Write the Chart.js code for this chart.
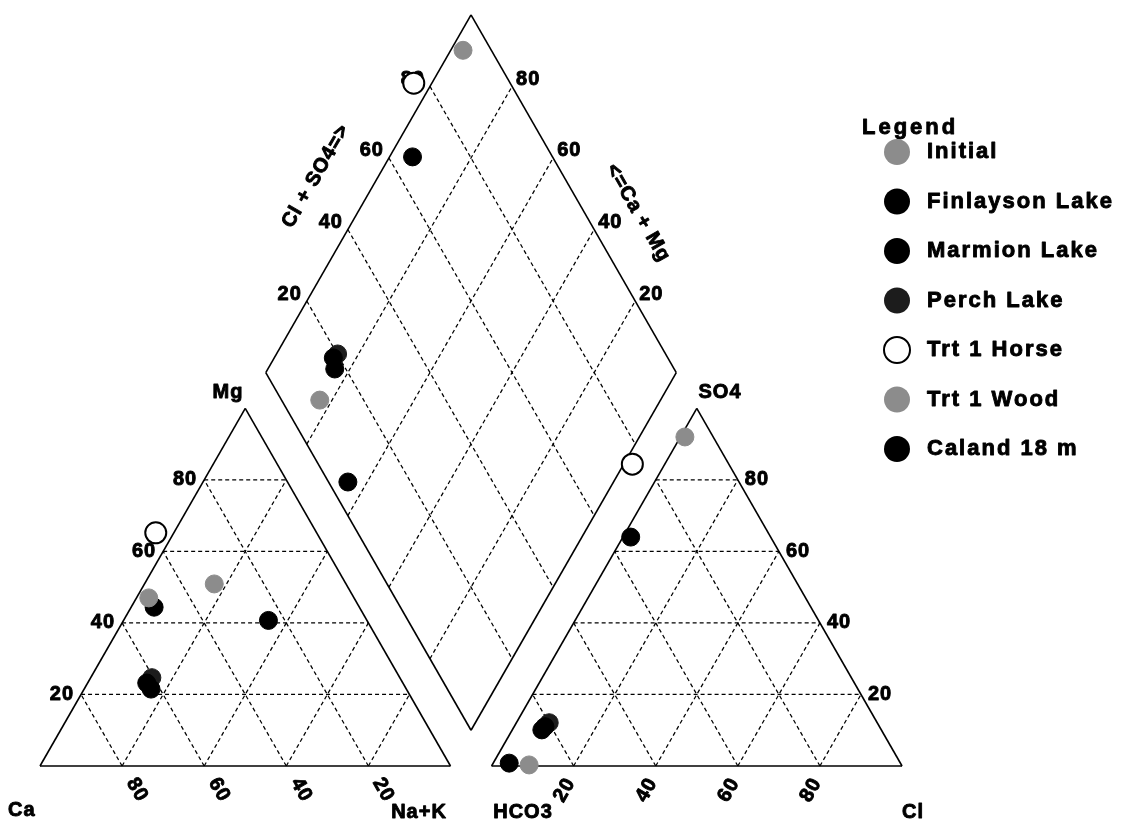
<!DOCTYPE html>
<html><head><meta charset="utf-8">
<script src="https://cdn.jsdelivr.net/npm/chart.js@4.4.0/dist/chart.umd.min.js"></script>
<style>html,body{margin:0;padding:0;background:#fff;}#wrap{width:1130px;height:827px;}</style>
</head><body><div id="wrap"><canvas id="c" width="1130" height="827"></canvas></div>
<script>
// ---- data ----
const seriesNames = ['Initial','Finlayson Lake','Marmion Lake','Perch Lake','Trt 1 Horse','Trt 1 Wood','Caland 18 m'];
const seriesFill  = ['#8c8c8c','#000000','#000000','#1c1c1c','#ffffff','#8c8c8c','#000000'];
// cation percentages (meq %) per sample
const caPct  = [[50.0],[62.4],[62.2,24.0],[60.4],[39.2],[32.1],[50.0]];
const mgPct  = [[47.0],[23.2],[21.5,40.7],[24.7],[65.2],[50.9],[44.4]];
// anion percentages (meq %) per sample
const so4Pct = [[92.0],[11.0],[10.1,0.8],[12.1],[84.4],[0.3],[64.0]];
const clPct  = [[1.1],[7.5],[7.2,3.9],[8.0],[-7.9],[9.0],[1.9]];
const tickValues = [20,40,60,80];

// ---- geometry helpers (ternary -> chart units) ----
const GAP = 10, H = Math.sqrt(3)/2;
const cat = (ca,mg) => ({x: 100 - ca - mg/2, y: mg*H});
const an  = (cl,so4) => ({x: 100 + GAP + cl + so4/2, y: so4*H});
const dia = (nak,s) => ({x: 100 + GAP/2 + (nak + s - 100)/2, y: GAP*H + (100 - nak + s)*H});

const datasets = [];
seriesNames.forEach((name,i)=>{
  const pts = [];
  caPct[i].forEach((ca,k)=>{
    const mg = mgPct[i][k], nak = 100 - ca - mg;
    const so4 = so4Pct[i][k], cl = clPct[i][k];
    pts.push(cat(ca,mg), an(cl,so4), dia(nak, so4+cl));
  });
  const hollow = seriesFill[i] === '#ffffff';
  datasets.push({label:name, data:pts, showLine:false,
    pointRadius: hollow ? 10.5 : 9, pointHoverRadius: hollow ? 10.5 : 9,
    backgroundColor: seriesFill[i], borderColor: hollow ? '#000' : seriesFill[i],
    pointBorderWidth: hollow ? 2 : 1});
});
function line(a,b,dash,w){
  datasets.push({data:[a,b], showLine:true, pointRadius:0, borderColor:'#000',
    borderWidth:w, borderDash:dash, fill:false});
}
const DASH = [4,3], GW = 1.25;
tickValues.forEach(v=>{
  line(cat(100-v,v), cat(0,v), DASH, GW);
  line(cat(v,0), cat(v,100-v), DASH, GW);
  line(cat(100-v,0), cat(0,100-v), DASH, GW);
  line(an(0,v), an(100-v,v), DASH, GW);
  line(an(v,0), an(v,100-v), DASH, GW);
  line(an(100-v,0), an(0,100-v), DASH, GW);
  line(dia(0,v), dia(100,v), DASH, GW);
  line(dia(v,0), dia(v,100), DASH, GW);
});
const outlines = [
  [cat(100,0), cat(0,0), cat(0,100), cat(100,0)],
  [an(0,0), an(100,0), an(0,100), an(0,0)],
  [dia(100,0), dia(0,0), dia(0,100), dia(100,100), dia(100,0)]
];
outlines.forEach(o=>{ for(let k=0;k<o.length-1;k++) line(o[k],o[k+1],[],1.6); });

// ---- labels plugin ----
const FONT = 'bold 20px "Liberation Sans", Arial, sans-serif';
function txt(ctx, s, x, y, align, rot, font, ls){
  ctx.save();
  ctx.font = font || FONT;
  try{ ctx.letterSpacing = ls || '1px'; }catch(e){}
  ctx.fillStyle = '#000'; ctx.strokeStyle = '#000'; ctx.lineWidth = 0.9; ctx.lineJoin='round';
  ctx.textAlign = align; ctx.textBaseline = 'middle';
  ctx.translate(x,y); if(rot) ctx.rotate(rot);
  ctx.fillText(s,0,0); ctx.strokeText(s,0,0);
  ctx.restore();
}
const labelPlugin = {
  id:'piperLabels',
  beforeDatasetsDraw(chart){
    const ctx = chart.ctx, sx = chart.scales.x, sy = chart.scales.y;
    const P = p => ({x: sx.getPixelForValue(p.x), y: sy.getPixelForValue(p.y)});
    const r60 = Math.PI/3;
    tickValues.forEach(v=>{
      let p = P(cat(100-v,v)); txt(ctx, String(v), p.x-7, p.y, 'right');
      p = P(cat(v,0)); txt(ctx, String(v), p.x+15, p.y+24, 'center', r60);
      p = P(an(v,0)); txt(ctx, String(v), p.x-9, p.y+24, 'center', -r60);
      p = P(an(100-v,v)); txt(ctx, String(v), p.x+7, p.y, 'left');
      p = P(dia(0,v)); txt(ctx, String(v), p.x-5, p.y-7, 'right');
      p = P(dia(100-v,100)); txt(ctx, String(v), p.x+4, p.y-7, 'left');
    });
    txt(ctx,'Mg',228,392,'center');
    txt(ctx,'SO4',720,392,'center');
    txt(ctx,'Ca',8,810,'left');
    txt(ctx,'Na+K',419,812,'center');
    txt(ctx,'HCO3',523,812,'center');
    txt(ctx,'Cl',913,812,'center');
    txt(ctx,'Cl + SO4=>',316,176,'center',-r60);
    txt(ctx,'<=Ca + Mg',638,213,'center',r60);
  },
  afterDraw(chart){
    const ctx = chart.ctx;
    const LF = 'bold 22px "Liberation Sans", Arial, sans-serif';
    txt(ctx,'Legend',862,128,'left',0,LF,'3px');
    seriesNames.forEach((n,i)=>{
      const y = 152 + i*49.5;
      ctx.save();
      ctx.beginPath(); ctx.arc(897,y,13,0,Math.PI*2);
      ctx.fillStyle = seriesFill[i]; ctx.fill();
      if(seriesFill[i]==='#ffffff'){ ctx.lineWidth=2; ctx.strokeStyle='#000'; ctx.stroke(); }
      ctx.restore();
      txt(ctx,n,927,y,'left',0,LF,'2px');
    });
  }
};

// ---- chart ----
const KX = 4.105, KY = 4.13, X0 = 40, Y0 = 766;
new Chart(document.getElementById('c'), {
  type:'scatter',
  data:{datasets},
  options:{
    responsive:false, animation:false, devicePixelRatio:1, events:[],
    layout:{padding:0, autoPadding:false},
    plugins:{legend:{display:false}, tooltip:{enabled:false}},
    scales:{
      x:{type:'linear', display:false, min:-X0/KX, max:-X0/KX + 1130/KX},
      y:{type:'linear', display:false, min:-(827-Y0)/KY, max:-(827-Y0)/KY + 827/KY}
    }
  },
  plugins:[labelPlugin]
});
</script></body></html>
